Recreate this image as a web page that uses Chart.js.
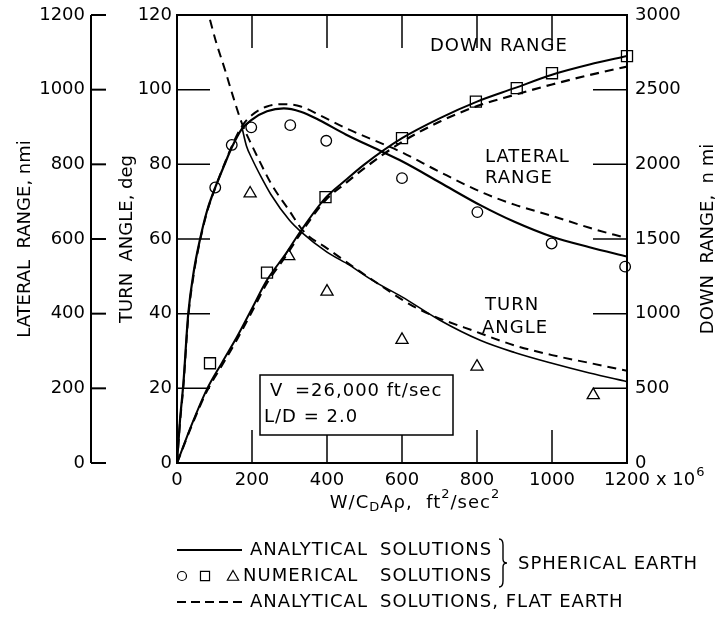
<!DOCTYPE html>
<html lang="en">
<head>
<meta charset="UTF-8">
<title>Turn angle, lateral range and down range</title>
<script src="https://cdn.jsdelivr.net/npm/chart.js"></script>
<style>
    body { margin: 0; background: #fff; }
    canvas { display: block; }
</style>
</head>
<body>
<canvas id="rangeChart" width="718" height="617"></canvas>
<script>
    // x: W/CDAρ in 10^6 ft²/sec²
    const xInnerTicks = [200, 400, 600, 800, 1000];
    const turnInnerTicks = [20, 40, 60, 80, 100];
    const downInnerTicks = [500, 1000, 1500, 2000, 2500];
    const latTicks = [0, 200, 400, 600, 800, 1000, 1200];

    // lateral range, n mi
    const latSolidX = [0, 8, 17, 30, 45, 62, 80, 102, 125, 146, 173, 200, 240, 285, 330, 380, 450, 540, 600, 700, 810, 900, 1000, 1100, 1200];
    const latSolidY = [0, 115, 213, 400, 515, 602, 675, 738, 795, 845, 895, 920, 942, 950, 941, 918, 880, 837, 808, 752, 690, 646, 606, 578, 553];
    const latFlatX = [0, 8, 17, 30, 45, 62, 80, 102, 125, 146, 173, 200, 240, 285, 330, 380, 450, 600, 700, 820, 900, 1000, 1100, 1200];
    const latFlatY = [0, 108, 205, 390, 508, 598, 672, 737, 797, 848, 902, 932, 955, 961, 955, 932, 897, 832, 780, 722, 692, 662, 630, 602];

    // turn angle, deg
    const turnSolidX = [173, 185, 200, 225, 250, 300, 330, 400, 460, 520, 600, 700, 810, 900, 1000, 1100, 1200];
    const turnSolidY = [90, 85, 81.5, 76.5, 72, 65, 62, 56.5, 53, 49, 44.5, 38.3, 32.8, 29.6, 26.7, 24.1, 21.8];
    const turnFlatX = [88, 105, 128, 150, 173, 200, 217, 250, 300, 338, 400, 507, 641, 810, 900, 1000, 1100, 1200];
    const turnFlatY = [118.7, 112.5, 105.3, 98, 91, 85, 81.5, 75, 67.5, 62, 57.5, 50, 41.4, 34.7, 31.5, 28.9, 26.8, 24.7];

    // down range, n mi
    const downSolidX = [0, 40, 79, 120, 160, 200, 240, 290, 329, 396, 450, 500, 600, 700, 800, 900, 1000, 1100, 1200];
    const downSolidY = [0, 262, 490, 672, 845, 1035, 1225, 1400, 1550, 1775, 1895, 2000, 2175, 2308, 2420, 2510, 2600, 2668, 2725];
    const downFlatX = [0, 40, 79, 120, 160, 200, 240, 290, 329, 396, 450, 500, 600, 700, 800, 900, 1000, 1100, 1200];
    const downFlatY = [0, 255, 478, 655, 828, 1015, 1205, 1385, 1535, 1760, 1875, 1975, 2150, 2285, 2390, 2465, 2535, 2598, 2655];

    // numerical solutions
    const circleX = [102, 146, 198, 302, 398, 600, 801, 999, 1195];
    const circleY = [738, 852, 899, 905, 863, 763, 672, 588, 526];
    const squareX = [88, 240, 396, 600, 797, 906, 1000, 1200];
    const squareY = [668, 1275, 1780, 2175, 2420, 2510, 2610, 2725];
    const triangleX = [195, 298, 400, 600, 800, 1110];
    const triangleY = [72.2, 55.4, 45.9, 33, 25.8, 18.2];

    const FONT = 'DejaVu Sans';
    Chart.defaults.font.family = FONT;
    Chart.defaults.font.size = 18;
    Chart.defaults.color = '#000';

    function pts(xs, ys) {
        return xs.map((x, i) => ({ x: x, y: ys[i] }));
    }

    function curve(label, xs, ys, axis, dashed, width) {
        return {
            label: label,
            data: pts(xs, ys),
            yAxisID: axis,
            borderColor: '#000',
            borderWidth: width,
            borderDash: dashed ? [9, 6] : [],
            pointRadius: 0,
            fill: false,
            cubicInterpolationMode: 'monotone',
            tension: 0.4
        };
    }

    function markers(label, xs, ys, axis, style, r) {
        return {
            label: label,
            data: pts(xs, ys),
            yAxisID: axis,
            showLine: false,
            pointStyle: style,
            pointRadius: r,
            pointBorderWidth: 1.3,
            pointBorderColor: '#000',
            pointBackgroundColor: '#fff',
            clip: false
        };
    }

    function line(ctx, x1, y1, x2, y2) {
        ctx.beginPath();
        ctx.moveTo(x1, y1);
        ctx.lineTo(x2, y2);
        ctx.stroke();
    }

    // fixed axis widths, no extra label overflow padding
    function fixWidth(w) {
        return sc => { sc.width = w; sc.paddingTop = 0; sc.paddingBottom = 0; };
    }

    const decor = {
        id: 'decor',
        afterDraw(chart) {
            const { ctx, chartArea: a, scales: s } = chart;
            ctx.save();
            ctx.strokeStyle = '#000';
            ctx.fillStyle = '#000';

            // frame and inner ticks
            ctx.lineWidth = 2;
            ctx.strokeRect(a.left, a.top, a.right - a.left, a.bottom - a.top);
            ctx.lineWidth = 1.5;
            turnInnerTicks.forEach(v => {
                const y = s.yTurn.getPixelForValue(v);
                line(ctx, a.left, y, a.left + 33, y);
            });
            downInnerTicks.forEach(v => {
                const y = s.yDown.getPixelForValue(v);
                line(ctx, a.right - 34, y, a.right, y);
            });
            xInnerTicks.forEach(v => {
                const x = s.x.getPixelForValue(v);
                line(ctx, x, a.top, x, a.top + 33);
                line(ctx, x, a.bottom - 33, x, a.bottom);
            });

            // outer lateral range axis
            const lx = s.yLat.right;
            ctx.lineWidth = 2;
            line(ctx, lx, s.yLat.getPixelForValue(0), lx, s.yLat.getPixelForValue(1200));
            latTicks.forEach(v => {
                const y = s.yLat.getPixelForValue(v);
                line(ctx, lx, y, lx + 15, y);
            });

            // right axis title, reading upward
            ctx.font = '18px ' + FONT;
            ctx.textAlign = 'center';
            ctx.textBaseline = 'middle';
            ctx.save();
            ctx.translate(708, (a.top + a.bottom) / 2);
            ctx.rotate(-Math.PI / 2);
            ctx.fillText('DOWN  RANGE,  n mi', 0, 0);
            ctx.restore();

            // "x 10^6" after the last x label
            const ly = s.x.top + 7 + 10.8;
            ctx.textAlign = 'left';
            const x1200 = s.x.getPixelForValue(1200) + ctx.measureText('1200').width / 2 + 6;
            ctx.fillText('x 10', x1200, ly);
            const w10 = ctx.measureText('x 10').width;
            ctx.font = '13px ' + FONT;
            ctx.fillText('6', x1200 + w10 + 1, ly - 8);

            // x title with sub/superscripts
            ctx.letterSpacing = '1px';
            const parts = [
                ['W/C', 18, 0], ['D', 13, 5], ['A\u03C1,  ft', 18, 0], ['2', 13, -8],
                ['/sec', 18, 0], ['2', 13, -8]
            ];
            let total = 0;
            parts.forEach(p => { ctx.font = p[1] + 'px ' + FONT; total += ctx.measureText(p[0]).width; });
            let tx = 415 - total / 2;
            parts.forEach(p => {
                ctx.font = p[1] + 'px ' + FONT;
                ctx.fillText(p[0], tx, 503 + p[2]);
                tx += ctx.measureText(p[0]).width;
            });

            // curve labels
            ctx.font = '18px ' + FONT;
            ctx.fillText('DOWN RANGE', 430, 46);
            ctx.fillText('LATERAL', 485, 157);
            ctx.fillText('RANGE', 485, 178);
            ctx.fillText('TURN', 485, 305);
            ctx.fillText('ANGLE', 482, 328);

            // conditions box
            ctx.fillStyle = '#fff';
            ctx.fillRect(260, 375, 193, 60);
            ctx.fillStyle = '#000';
            ctx.lineWidth = 1.5;
            ctx.strokeRect(260, 375, 193, 60);
            ctx.fillText('V', 270, 391);
            ctx.fillText('=26,000 ft/sec', 295, 391);
            ctx.fillText('L/D = 2.0', 264, 417);

            // legend
            const r1 = 550, r2 = 576, r3 = 602;
            ctx.lineWidth = 2;
            line(ctx, 177, r1, 242, r1);
            ctx.setLineDash([9, 5]);
            line(ctx, 177, r3, 245, r3);
            ctx.setLineDash([]);
            ctx.fillText('ANALYTICAL', 250, r1);
            ctx.fillText('SOLUTIONS', 380, r1);
            ctx.fillText('NUMERICAL', 243, r2);
            ctx.fillText('SOLUTIONS', 380, r2);
            ctx.fillText('ANALYTICAL', 250, r3);
            ctx.fillText('SOLUTIONS, FLAT EARTH', 380, r3);
            ctx.fillText('SPHERICAL EARTH', 518, (r1 + r2) / 2 + 1);
            const mk = { radius: 4.5, rotation: 0, borderWidth: 1.2 };
            ctx.fillStyle = '#fff';
            ctx.lineWidth = 1.2;
            Chart.helpers.drawPoint(ctx, Object.assign({ pointStyle: 'circle' }, mk), 182, r2);
            Chart.helpers.drawPoint(ctx, Object.assign({ pointStyle: 'rect' }, mk, { radius: 6.4 }), 205, r2);
            Chart.helpers.drawPoint(ctx, Object.assign({ pointStyle: 'triangle' }, mk, { radius: 6.5 }), 233, r2 + 1);

            // brace
            const bx = 499, bt = r1 - 11, bb = r2 + 11, bm = (r1 + r2) / 2;
            ctx.lineWidth = 1.4;
            ctx.beginPath();
            ctx.moveTo(bx, bt);
            ctx.quadraticCurveTo(bx + 4, bt, bx + 4, bt + 6);
            ctx.lineTo(bx + 4, bm - 4);
            ctx.quadraticCurveTo(bx + 4, bm, bx + 8, bm);
            ctx.quadraticCurveTo(bx + 4, bm, bx + 4, bm + 4);
            ctx.lineTo(bx + 4, bb - 6);
            ctx.quadraticCurveTo(bx + 4, bb, bx, bb);
            ctx.stroke();
            ctx.restore();
        }
    };

    const label = v => String(v);

    new Chart(document.getElementById('rangeChart'), {
        type: 'line',
        data: {
            datasets: [
                curve('Lateral range, spherical earth', latSolidX, latSolidY, 'yLat', false, 2.2),
                curve('Lateral range, flat earth', latFlatX, latFlatY, 'yLat', true, 2),
                curve('Turn angle, spherical earth', turnSolidX, turnSolidY, 'yTurn', false, 1.6),
                curve('Turn angle, flat earth', turnFlatX, turnFlatY, 'yTurn', true, 2),
                curve('Down range, spherical earth', downSolidX, downSolidY, 'yDown', false, 2),
                curve('Down range, flat earth', downFlatX, downFlatY, 'yDown', true, 2.2),
                markers('Lateral range, numerical', circleX, circleY, 'yLat', 'circle', 5.3),
                markers('Down range, numerical', squareX, squareY, 'yDown', 'rect', 7.8),
                markers('Turn angle, numerical', triangleX, triangleY, 'yTurn', 'triangle', 7)
            ]
        },
        options: {
            responsive: false,
            animation: false,
            layout: { padding: { left: 0, right: 0, top: 15, bottom: 114 } },
            plugins: { legend: { display: false }, tooltip: { enabled: false } },
            scales: {
                x: {
                    type: 'linear', min: 0, max: 1200,
                    ticks: { stepSize: 200, padding: 7, autoSkip: false, maxRotation: 0, callback: label },
                    grid: { display: false, drawTicks: false },
                    border: { display: false },
                    afterFit: sc => { sc.height = 40; sc.paddingLeft = 0; sc.paddingRight = 0; }
                },
                yTurn: {
                    position: 'left', weight: 1, min: 0, max: 120,
                    ticks: { stepSize: 20, padding: 5, callback: label },
                    grid: { display: false, drawTicks: false },
                    border: { display: false },
                    title: { display: true, text: 'TURN  ANGLE, deg', padding: { top: 26, bottom: 0 } },
                    afterFit: fixWidth(86)
                },
                yLat: {
                    position: 'left', weight: 2, min: 0, max: 1200,
                    ticks: { stepSize: 200, padding: 6, callback: label },
                    grid: { display: false, drawTicks: false },
                    border: { display: false },
                    title: { display: true, text: 'LATERAL  RANGE, nmi', padding: { top: 15, bottom: 0 } },
                    afterFit: fixWidth(91)
                },
                yDown: {
                    position: 'right', min: 0, max: 3000,
                    ticks: { stepSize: 500, padding: 8, callback: label },
                    grid: { display: false, drawTicks: false },
                    border: { display: false },
                    afterFit: fixWidth(91)
                }
            }
        },
        plugins: [decor]
    });
</script>
</body>
</html>
